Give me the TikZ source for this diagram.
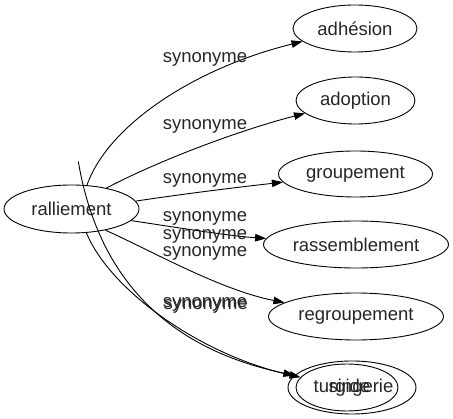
\documentclass[tikz,border=0pt]{standalone}
\usepackage{fontspec}
\setmainfont{Liberation Sans}
\usetikzlibrary{shapes.geometric,arrows.meta}
\begin{document}
\begin{tikzpicture}[x=1pt,y=-1pt,
  every node/.style={font=\fontsize{18.5}{22}\selectfont,text=black!85},
  word/.style={draw,ellipse,inner sep=0pt,line width=0.9pt},
  lbl/.style={anchor=base,inner sep=0pt},
  edge/.style={line width=0.9pt,-{Triangle[length=11pt,width=7.5pt]}},
  plain/.style={line width=0.9pt}]
\useasboundingbox (0,0) rectangle (453,419);
% nodes
\node[word,minimum width=135pt,minimum height=48pt] (ral) at (71.5,209) {ralliement};
\node[word,minimum width=124pt,minimum height=47pt] (adh) at (355,28.5) {adhésion};
\node[word,minimum width=119pt,minimum height=47pt] (adp) at (355.5,100.5) {adoption};
\node[word,minimum width=154pt,minimum height=46pt] (grp) at (355.5,174) {groupement};
\node[word,minimum width=185pt,minimum height=47pt] (ras) at (356,244.5) {rassemblement};
\node[word,minimum width=175pt,minimum height=47pt] (reg) at (356,316.5) {regroupement};
\node[word,minimum width=102pt,minimum height=47pt] (bota) at (347,387.5) {\makebox[0pt][c]{turgide\hspace{10pt}}};
\node[word,minimum width=128pt,minimum height=53pt] (botb) at (352,387.5) {\makebox[0pt][c]{\hspace{18pt}singerie}};
\coordinate (lbstart) at (78.3,161.5);
% edges
\draw[edge] (ral.57) .. controls (108,125) and (195,68) .. (adh);
\draw[edge] (ral.31) .. controls (160,160) and (240,130) .. (adp);
\draw[edge] (ral.7) .. controls (190,193) and (240,187) .. (grp);
\draw[edge] (ral.-11) .. controls (180,228) and (230,236) .. (ras);
\draw[edge] (ral.-32) .. controls (150,250) and (220,290) .. (reg);
\draw[edge] (ral.-58) .. controls (110,290) and (200,355) .. (bota);
\draw[edge] (lbstart) .. controls (95,260) and (150,345) .. (botb);
% labels
\node[lbl] (l1) at (205,62.7) {synonyme};
\node[lbl] (l2) at (205,130) {synonyme};
\node[lbl] (l3) at (205,183.3) {synonyme};
\node[lbl] (l4a) at (205,221.7) {synonyme};
\node[lbl] (l4b) at (205,240) {synonyme};
\node[lbl] (l4c) at (205,256.7) {synonyme};
\node[lbl] (l5a) at (205,308) {synonyme};
\node[lbl] (l5b) at (205.7,309.5) {synonyme};
\end{tikzpicture}
\end{document}
